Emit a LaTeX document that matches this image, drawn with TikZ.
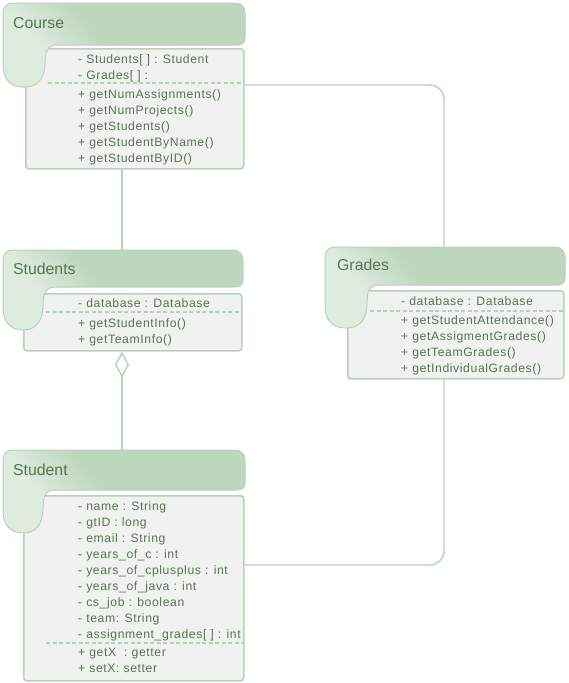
\documentclass[tikz,border=0pt]{standalone}
\usepackage{fontspec}
\setmainfont{Liberation Sans}
\newfontfamily\memberfont[LetterSpace=5]{Liberation Sans}
\usetikzlibrary{arrows.meta}
\definecolor{umlline}{HTML}{B5D3B6}
\definecolor{hdr}{HTML}{BDD7BE}
\definecolor{hdrlight}{HTML}{E0EBE0}
\definecolor{bodyfill}{HTML}{F1F1F1}
\definecolor{txt}{HTML}{557750}
\pgfdeclarehorizontalshading{hdrshade}{100bp}{color(0bp)=(hdrlight); color(30bp)=(hdrlight); color(46bp)=(hdr); color(100bp)=(hdr)}
\tikzset{
  conn/.style={draw=umlline, line width=1.4pt, rounded corners=14pt},
  bodybox/.style={draw=umlline, fill=bodyfill, line width=1.6pt, rounded corners=3pt, inner sep=0pt, anchor=north west},
  hdrshape/.style={draw=umlline, line width=1pt, shading=hdrshade, shading angle=40},
  titletext/.style={anchor=base west, text=txt, font=\fontsize{15.8}{18}\selectfont, inner sep=0pt},
  member/.style={anchor=base west, text=txt, font=\memberfont\fontsize{12.2}{14}\selectfont, inner sep=0pt},
  sepline/.style={draw=umlline, dash pattern=on 4pt off 2.5pt, line width=1.5pt}
}
% #1 name, #2 L, #3 T, #4 R, #5 header bottom, #6 body top, #7 body left, #8 curl bottom, #9 body bottom
\newcommand\umlclassbox[9]{%
  \node[bodybox, minimum width={#4-2-#7}, minimum height={#9-#6}] (#1body) at (#7,#6) {};
  \path[hdrshape] (#2,#3+10) .. controls (#2,#3+4) and (#2+4,#3) .. (#2+10,#3)
    -- (#4-10,#3) .. controls (#4-4,#3) and (#4,#3+4) .. (#4,#3+10)
    -- (#4,#5-7) .. controls (#4,#5-2) and (#4-3,#5) .. (#4-8,#5)
    -- (#7+32,#5) .. controls (#7+22,#5) and (#7+20,#5+8) .. (#7+20,#5+18)
    .. controls (#7+20,#8-8) and (#7+12,#8) .. (#7,#8)
    -- (#2+20,#8) .. controls (#2+6,#8) and (#2,#8-10) .. (#2,#8-22) -- cycle;
  \coordinate (#1top) at ({(#2+#4)/2},#3);
}
\begin{document}
\begin{tikzpicture}[x=1pt,y=-1pt]
\useasboundingbox (0,0) rectangle (568,683);
\coordinate (cx) at (122,0);
\coordinate (gx) at (444,0);
\coordinate (sy) at (0,565);

% Course
\umlclassbox{course}{3}{3}{245}{45}{48}{25}{87}{168}
\node[titletext] (coursetitle) at (13,28.5) {Course};
\draw[sepline] (48,83) -- (243,83);
\node[member] (c1) at (78,63.3) {- Students[ ] : Student};
\node[member] (c2) at (78,79.3) {- Grades[ ] :};
\node[member] (c3) at (78,98) {+ getNumAssignments()};
\node[member] (c4) at (78,114) {+ getNumProjects()};
\node[member] (c5) at (78,130) {+ getStudents()};
\node[member] (c6) at (78,146) {+ getStudentByName()};
\node[member] (c7) at (78,162) {+ getStudentByID()};

% Students
\umlclassbox{students}{3}{250}{243}{287}{293}{23}{330}{350}
\node[titletext] (studentstitle) at (13,274.5) {Students};
\draw[sepline] (46,312) -- (241,312);
\node[member] (s1) at (78,307.3) {- database : Database};
\node[member] (s2) at (78,327.3) {+ getStudentInfo()};
\node[member] (s3) at (78,343.3) {+ getTeamInfo()};

% Grades
\umlclassbox{grades}{325}{247}{565}{285}{290}{347}{328}{378}
\node[titletext] (gradestitle) at (337,270.5) {Grades};
\draw[sepline] (370,311) -- (563,311);
\node[member] (g1) at (401,305.3) {- database : Database};
\node[member] (g2) at (401,324.8) {+ getStudentAttendance()};
\node[member] (g3) at (401,340.8) {+ getAssigmentGrades()};
\node[member] (g4) at (401,356.8) {+ getTeamGrades()};
\node[member] (g5) at (401,372.8) {+ getIndividualGrades()};

% Student
\umlclassbox{student}{3}{450}{245}{490}{495}{23}{533}{680}
\node[titletext] (studenttitle) at (13,475.5) {Student};
\draw[sepline] (46,643) -- (243,643);
\node[member] (t1) at (78,510.3) {- name : String};
\node[member] (t2) at (78,526.3) {- gtID : long};
\node[member] (t3) at (78,542.3) {- email : String};
\node[member] (t4) at (78,558.3) {- years\_of\_c : int};
\node[member] (t5) at (78,574.3) {- years\_of\_cplusplus : int};
\node[member] (t6) at (78,590.3) {- years\_of\_java : int};
\node[member] (t7) at (78,606.3) {- cs\_job : boolean};
\node[member] (t8) at (78,622.3) {- team: String};
\node[member] (t9) at (78,638.3) {- assignment\_grades[ ] : int};
\node[member] (t10) at (78,656.3) {+ getX\ \ : getter};
\node[member] (t11) at (78,672.3) {+ setX: setter};

% connectors
\draw[conn] (coursebody.south -| cx) -- (studentstop -| cx);
\draw[conn] (coursebody.north east) ++(0,37) -| (gradestop -| gx);
\draw[conn, {Diamond[open, length=26pt, width=14pt, fill=white]}-] (studentsbody.south -| cx) -- (studenttop -| cx);
\draw[conn] (gradesbody.south -| gx) |- (studentbody.east |- sy);
\end{tikzpicture}
\end{document}
